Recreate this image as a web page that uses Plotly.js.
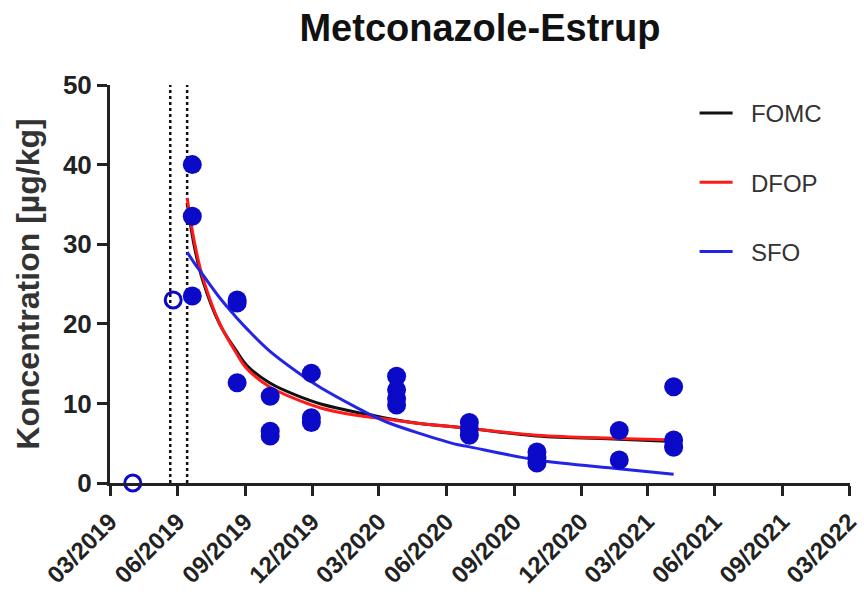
<!DOCTYPE html>
<html>
<head>
<meta charset="utf-8">
<script src="https://cdn.plot.ly/plotly-3.0.1.min.js"></script>
<style>html,body{margin:0;padding:0;background:#fff;}#chart{width:864px;height:598px;}</style>
</head>
<body>
<div id="chart"></div>
<script>
// Measured concentrations (filled points)
var measDates = ["2019-06-21","2019-06-21","2019-06-21",
  "2019-08-21","2019-08-21","2019-08-21",
  "2019-10-05","2019-10-05","2019-10-05",
  "2019-11-30","2019-11-30","2019-11-30",
  "2020-03-25","2020-03-25","2020-03-25","2020-03-25",
  "2020-07-02","2020-07-02","2020-07-02",
  "2020-10-02","2020-10-02","2020-10-02",
  "2021-01-22","2021-01-22",
  "2021-04-06","2021-04-06","2021-04-06"];
var measValues = [40.0, 33.5, 23.5,
  23.0, 22.6, 12.6,
  10.9, 6.5, 5.9,
  13.8, 8.2, 7.6,
  13.4, 11.7, 10.6, 9.8,
  7.6, 6.8, 6.0,
  3.9, 3.2, 2.5,
  6.6, 2.9,
  12.1, 5.4, 4.5];
// Pre-application samples (open circles)
var preDates = ["2019-04-01","2019-05-26"];
var preValues = [0, 23.0];
// Application dates (dotted lines)
var applDates = ["2019-05-22","2019-06-14"];
// Fitted model curves
var fitDates = ["2019-06-14","2019-06-24","2019-07-05","2019-07-28","2019-08-20","2019-09-03","2019-10-04","2019-11-27","2019-12-14","2020-01-30","2020-02-16","2020-03-13","2020-04-23","2020-06-17","2020-06-29","2020-10-02","2021-01-21","2021-04-06"];
var fomc = [35.2, 29.6, 25.5, 20.0, 16.6, 14.8, 12.6, 10.4, 9.9, 8.9, 8.6, 8.1, 7.5, 7.0, 6.9, 5.9, 5.5, 5.2];
var dfop = [35.8, 30.2, 25.9, 20.1, 16.3, 14.4, 12.1, 9.9, 9.4, 8.5, 8.3, 8.0, 7.5, 7.0, 6.9, 6.0, 5.6, 5.4];
var sfo  = [29.0, 27.6, 26.2, 23.3, 20.8, 19.4, 16.6, 12.9, 11.9, 9.5, 8.7, 7.6, 6.3, 4.8, 4.6, 2.9, 1.8, 1.1];
var seriesNames = ["FOMC","DFOP","SFO"];
var tickDates = ["2019-03-01","2019-06-01","2019-09-01","2019-12-01","2020-03-01","2020-06-01","2020-09-01","2020-12-01","2021-03-01","2021-06-01","2021-09-01","2021-12-01"];
var tickLabels = ["03/2019","06/2019","09/2019","12/2019","03/2020","06/2020","09/2020","12/2020","03/2021","06/2021","09/2021","03/2022"];

var FONT = "Liberation Sans, Arial, sans-serif";
var PAD = "\u00a0\u00a0";
var traces = [];
applDates.forEach(function(d){
  traces.push({x:[d,d], y:[0,50], mode:'lines', line:{color:'#111', width:2.5, dash:'dot'}, showlegend:false, hoverinfo:'skip'});
});
traces.push({x:fitDates, y:fomc, mode:'lines', name:PAD+seriesNames[0], legendgroup:'a', line:{color:'#111', width:3, shape:'spline'}});
traces.push({x:fitDates, y:dfop, mode:'lines', name:PAD+seriesNames[1], legendgroup:'b', line:{color:'#ff1a1a', width:3, shape:'spline'}});
traces.push({x:fitDates, y:sfo, mode:'lines', name:PAD+seriesNames[2], legendgroup:'c', line:{color:'#2424e6', width:3, shape:'spline'}});
traces.push({x:measDates, y:measValues, mode:'markers', showlegend:false, cliponaxis:false,
  marker:{color:'#0a0ac8', size:19, line:{width:0}}});
traces.push({x:preDates, y:preValues, mode:'markers', showlegend:false, cliponaxis:false,
  marker:{color:'#0a0ac8', size:16, symbol:'circle-open', line:{color:'#0a0ac8', width:3}}});

var layout = {
  width:864, height:598,
  margin:{l:110, r:14, t:85, b:115, pad:0},
  paper_bgcolor:'#fff', plot_bgcolor:'#fff',
  font:{family:FONT, color:'#222'},
  title:{text:'Metconazole-Estrup', font:{family:FONT, size:38, weight:'bold', color:'#111'}, x:0.5, xref:'paper', y:0.953, yref:'container', yanchor:'middle'},
  xaxis:{type:'date', range:['2019-03-01','2021-12-02'], tickmode:'array', tickvals:tickDates, ticktext:tickLabels,
    tickangle:-45, ticks:'outside', ticklen:10, tickwidth:3, tickcolor:'#222', ticklabelstandoff:2, ticklabeloverflow:'allow',
    showline:true, linecolor:'#222', linewidth:3, showgrid:false, zeroline:false,
    tickfont:{family:FONT, size:24, weight:'bold', color:'#222'}},
  yaxis:{range:[0,50], dtick:10, ticks:'outside', ticklen:10, tickwidth:3, tickcolor:'#222',
    showline:true, linecolor:'#222', linewidth:3, showgrid:false, zeroline:false,
    tickfont:{family:FONT, size:26, weight:'bold', color:'#222'},
    title:{text:'Koncentration [µg/kg]', font:{family:FONT, size:32, weight:'bold', color:'#333'}, standoff:14}},
  showlegend:true,
  legend:{x:0.79, y:0.985, xanchor:'left', yanchor:'top', bgcolor:'rgba(0,0,0,0)',
    font:{family:FONT, size:24, color:'#333'}, traceorder:'grouped', tracegroupgap:35, itemwidth:33}
};
Plotly.newPlot('chart', traces, layout, {displayModeBar:false, staticPlot:true});
</script>
</body>
</html>
